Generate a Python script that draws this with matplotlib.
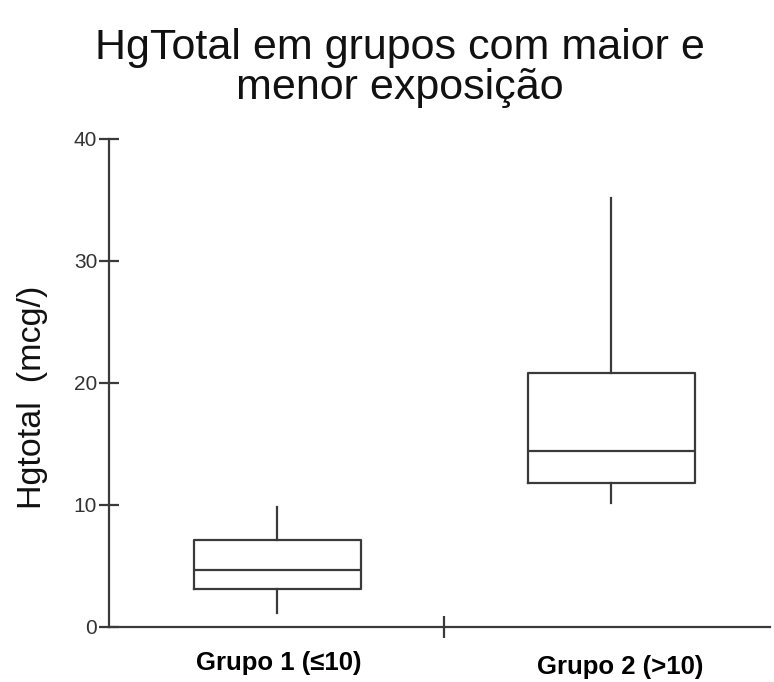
import matplotlib
matplotlib.use("Agg")
import matplotlib.pyplot as plt
import matplotlib.transforms as mtransforms

plt.rcParams['font.family'] = ['Liberation Sans', 'DejaVu Sans']

categories = ["Grupo 1 (≤10)", "Grupo 2 (>10)"]
whislo = [1.15, 10.2]
q1 = [3.15, 11.8]
med = [4.7, 14.4]
q3 = [7.15, 20.8]
whishi = [9.8, 35.2]
yticks = [0, 10, 20, 30, 40]

fig = plt.figure(figsize=(7.74, 6.82), dpi=100)
ax = fig.add_axes([109/774, 1-627/682, (770-109)/774, (627-139)/682])

stats = []
for i, c in enumerate(categories):
    stats.append(dict(label=c, whislo=whislo[i], q1=q1[i], med=med[i],
                      q3=q3[i], whishi=whishi[i], fliers=[]))

lc = '#3a3a3a'
positions = list(range(1, len(categories) + 1))
ax.bxp(stats, positions=positions, widths=0.5, showcaps=False, showfliers=False,
       boxprops=dict(color=lc, linewidth=1.6),
       medianprops=dict(color=lc, linewidth=1.6),
       whiskerprops=dict(color=lc, linewidth=1.6))

ax.set_xlim(0.497, 2.476)
ax.set_ylim(0, 40)
ax.set_yticks(yticks)
ax.set_yticklabels([str(t) for t in yticks])
ax.spines['top'].set_visible(False)
ax.spines['right'].set_visible(False)
for s in ['left', 'bottom']:
    ax.spines[s].set_color(lc)
    ax.spines[s].set_linewidth(1.6)

ax.tick_params(axis='y', direction='inout', length=15, width=1.6, color=lc,
               labelsize=15, labelcolor='#333333', pad=1)
ax.set_xticks([1.5])
ax.set_xticklabels([''])
ax.tick_params(axis='x', direction='inout', length=16, width=1.6, color=lc)

offsets = [2, 9]
yoffs = [-36, -40]
for i, c in enumerate(categories):
    tr = mtransforms.offset_copy(ax.get_xaxis_transform(), fig=fig,
                                 x=offsets[i], y=yoffs[i], units='dots')
    ax.text(positions[i], 0, c, transform=tr, ha='center', va='center',
            fontsize=18.5, fontweight='bold', color='black')

fig.text(400/774, 1-68/682, "HgTotal em grupos com maior e\nmenor exposição",
         ha='center', va='center', fontsize=31, color='#111111', linespacing=0.98)
fig.text(33/774, 1-397/682, "Hgtotal  (mcg/)", rotation=90, ha='center',
         va='center', fontsize=24.5, color='#111111')

fig.savefig("out.png", dpi=100)
